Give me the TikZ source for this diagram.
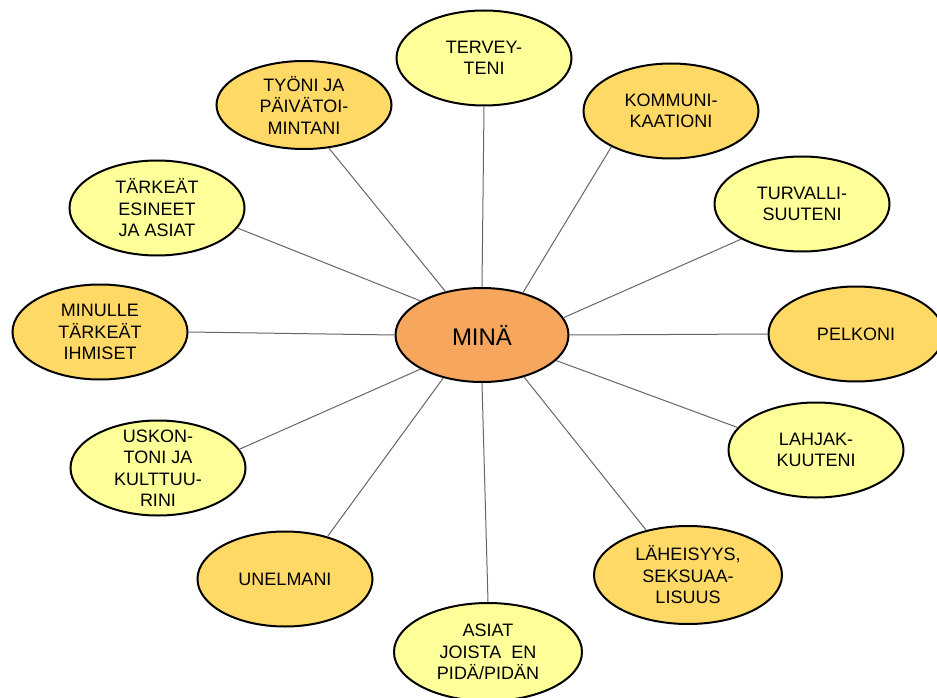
\documentclass[tikz,border=0pt]{standalone}
\usepackage{fontspec}
\setmainfont{Liberation Sans}
\usetikzlibrary{shapes.geometric}
\definecolor{paleyellow}{RGB}{255,255,153}
\definecolor{goldyellow}{RGB}{255,217,102}
\definecolor{coreorange}{RGB}{247,166,94}
\begin{document}
\begin{tikzpicture}[x=1pt,y=-1pt,
  bubble/.style={ellipse, draw=black, line width=2pt, inner sep=-12pt,
    minimum width=175pt, minimum height=95pt, align=center,
    font=\fontsize{18}{21.5}\selectfont, text=black},
  pale/.style={bubble, fill=paleyellow},
  gold/.style={bubble, fill=goldyellow},
  core/.style={bubble, fill=coreorange, minimum width=173pt, minimum height=94pt,
    font=\fontsize{24}{28}\selectfont},
  spoke/.style={draw=black!60, line width=1pt}]
\useasboundingbox (0,0) rectangle (937,698);
\fill[white] (0,0) rectangle (937,698);

% central bubble
\node[core] (m) at (482,335) {MINÄ};

% surrounding bubbles, clockwise from the top
\node[pale] (t)  at (484,58)  {TERVEY-\\TENI};
\node[gold] (k)  at (671,111) {KOMMUNI-\\KAATIONI};
\node[pale] (tu) at (802,204) {TURVALLI-\\SUUTENI};
\node[gold] (p)  at (856,334) {PELKONI};
\node[pale] (l)  at (816,450) {LAHJAK-\\KUUTENI};
\node[gold, minimum width=188pt, minimum height=98pt] (lh) at (688,575) {LÄHEISYYS,\\SEKSUAA-\\LISUUS};
\node[pale, minimum width=188pt, minimum height=98pt] (a) at (488,652) {ASIAT\\JOISTA\ \ EN\\PIDÄ/PIDÄN};
\node[gold] (u)  at (285,579) {UNELMANI};
\node[pale] (us) at (158,468) {USKON-\\TONI JA\\KULTTUU-\\RINI};
\node[gold] (mi) at (100,332) {MINULLE\\TÄRKEÄT\\IHMISET};
\node[pale] (te) at (157,208) {TÄRKEÄT\\ESINEET\\JA ASIAT};
\node[gold, minimum height=88pt] (ty) at (304,105) {TYÖNI JA\\PÄIVÄTOI-\\MINTANI};

% spokes
\draw[spoke] (m.90)    -- (t.-90);
\draw[spoke] (m.46)    -- (k.211.5);
\draw[spoke] (m.12)    -- (tu.210.7);
\draw[spoke] (m.0)     -- (p.180);
\draw[spoke] (m.-19)   -- (l.164);
\draw[spoke] (m.-45)   -- (lh.133.6);
\draw[spoke] (m.-90)   -- (a.90);
\draw[spoke] (m.228.4) -- (u.45);
\draw[spoke] (m.209.4) -- (us.13.7);
\draw[spoke] (m.180)   -- (mi.0);
\draw[spoke] (m.151)   -- (te.-14);
\draw[spoke] (m.130.4) -- (ty.-60.4);
\end{tikzpicture}
\end{document}
